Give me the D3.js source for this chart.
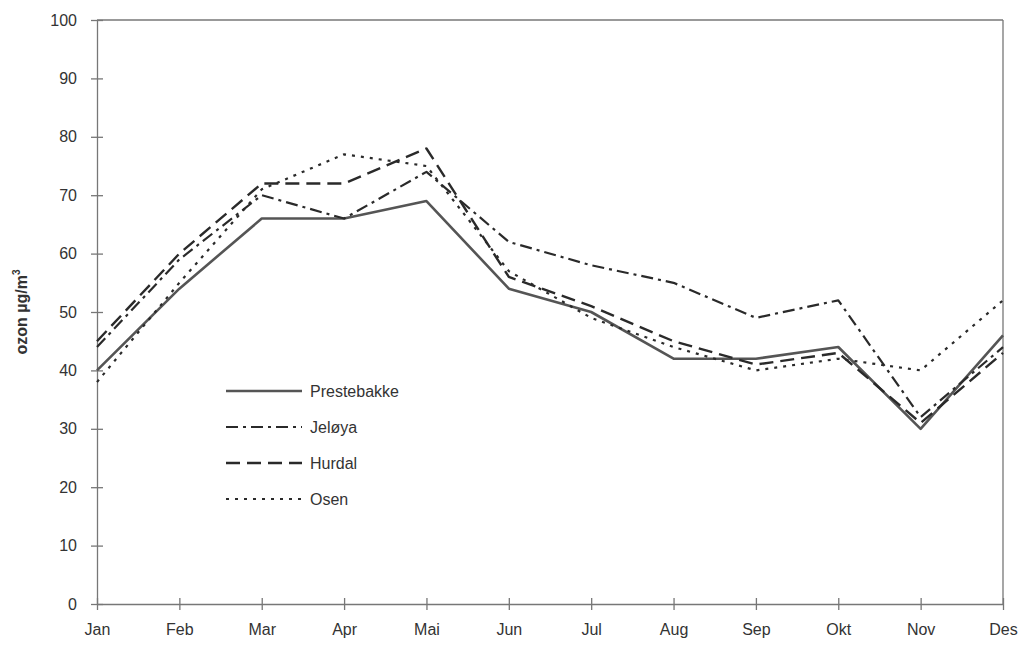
<!DOCTYPE html>
<html lang="no">
<head>
<meta charset="UTF-8">
<title>Ozon</title>
<style>
    body { margin: 0; background: #FFFFFF; font-family: "Liberation Sans", Arial, sans-serif; }
    svg { display: block; }
</style>
</head>
<body>
<div id="chart"></div>
<script src="https://d3js.org/d3.v7.min.js"></script>
<script>
    // Data
    const months = ["Jan", "Feb", "Mar", "Apr", "Mai", "Jun", "Jul", "Aug", "Sep", "Okt", "Nov", "Des"];
    const prestebakke = [40, 54, 66, 66, 69, 54, 50, 42, 42, 44, 30, 46];
    const jeloya      = [44, 59, 70, 66, 74, 62, 58, 55, 49, 52, 32, 44];
    const hurdal      = [45, 60, 72, 72, 78, 56, 51, 45, 41, 43, 31, 43];
    const osen        = [38, 55, 71, 77, 75, 57, 49, 44, 40, 42, 40, 52];
    const yTicks = [0, 10, 20, 30, 40, 50, 60, 70, 80, 90, 100];

    const series = [
        { name: "Prestebakke", values: prestebakke, dash: null, color: "#555", width: 2.6 },
        { name: "Jeløya", values: jeloya, dash: "12,5,3,5", color: "#2a2a2a", width: 2.2 },
        { name: "Hurdal", values: hurdal, dash: "14,7", color: "#2a2a2a", width: 2.4 },
        { name: "Osen", values: osen, dash: "3,6", color: "#2a2a2a", width: 2.2 }
    ];

    const width = 1026, height = 648;
    const margin = { left: 97, right: 23, top: 20, bottom: 44 };

    const svg = d3.select("#chart").append("svg")
        .attr("width", width)
        .attr("height", height);

    const x = d3.scalePoint().domain(months).range([margin.left, width - margin.right]);
    const y = d3.scaleLinear().domain([0, 100]).range([height - margin.bottom, margin.top]);

    const axisColor = "#777";

    // box top and right
    svg.append("line")
        .attr("x1", margin.left).attr("x2", width - margin.right)
        .attr("y1", y(100)).attr("y2", y(100))
        .attr("stroke", axisColor).attr("stroke-width", 1.3);
    svg.append("line")
        .attr("x1", width - margin.right).attr("x2", width - margin.right)
        .attr("y1", y(100)).attr("y2", y(0))
        .attr("stroke", axisColor).attr("stroke-width", 1.3);

    // y axis with crossing ticks
    const yAxis = svg.append("g")
        .attr("transform", `translate(${margin.left},0)`)
        .call(d3.axisLeft(y).tickValues(yTicks).tickSize(6).tickSizeOuter(0).tickPadding(14));
    yAxis.selectAll(".tick line").attr("x2", 6).attr("x1", -6);

    // x axis with crossing ticks
    const xAxis = svg.append("g")
        .attr("transform", `translate(0,${y(0)})`)
        .call(d3.axisBottom(x).tickSize(6).tickSizeOuter(0).tickPadding(14));
    xAxis.selectAll(".tick line").attr("y1", -6).attr("y2", 6);

    [yAxis, xAxis].forEach(g => {
        g.select(".domain").attr("stroke", axisColor).attr("stroke-width", 1.3);
        g.selectAll(".tick line").attr("stroke", axisColor).attr("stroke-width", 1.3);
        g.selectAll(".tick text")
            .attr("fill", "#333")
            .attr("font-size", "16px")
            .attr("font-family", "'Liberation Sans', Arial, sans-serif");
    });

    // y axis title
    const yTitle = svg.append("text")
        .attr("transform", `translate(27,${(y(0) + y(100)) / 2}) rotate(-90)`)
        .attr("text-anchor", "middle")
        .attr("font-size", "16px")
        .attr("font-weight", "bold")
        .attr("fill", "#333");
    yTitle.append("tspan").text("ozon µg/m");
    yTitle.append("tspan").attr("dy", -7).attr("font-size", "10px").text("3");

    // lines
    const line = d3.line()
        .x((d, i) => x(months[i]))
        .y(d => y(d));

    series.forEach(s => {
        svg.append("path")
            .datum(s.values)
            .attr("d", line)
            .attr("fill", "none")
            .attr("stroke", s.color)
            .attr("stroke-width", s.width)
            .attr("stroke-dasharray", s.dash)
            .attr("stroke-linejoin", "round");
    });

    // legend
    const legend = svg.append("g").attr("transform", "translate(226,391)");
    series.forEach((s, i) => {
        const row = legend.append("g").attr("transform", `translate(0,${i * 36})`);
        row.append("line")
            .attr("x1", 0).attr("x2", 76)
            .attr("y1", 0).attr("y2", 0)
            .attr("stroke", s.color)
            .attr("stroke-width", s.width)
            .attr("stroke-dasharray", s.dash);
        row.append("text")
            .attr("x", 84).attr("y", 6)
            .attr("font-size", "16px")
            .attr("fill", "#333")
            .text(s.name);
    });
</script>
</body>
</html>
